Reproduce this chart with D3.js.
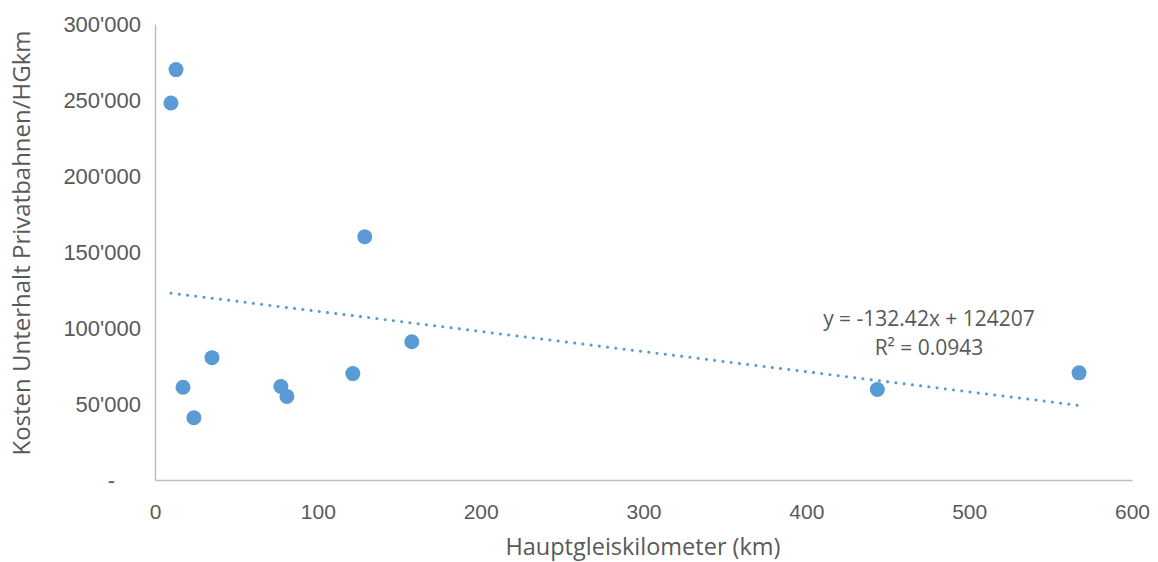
<!DOCTYPE html>
<html>
<head>
<meta charset="utf-8">
<script src="https://cdn.jsdelivr.net/npm/d3@7"></script>
<style>
  html, body { margin: 0; padding: 0; background: #ffffff; }
  svg { display: block; font-family: "Open Sans", sans-serif; }
</style>
</head>
<body>
<svg id="chart" width="1158" height="562"></svg>
<script>
// Hauptgleiskilometer (km) per railway
const trackKm = [12.9, 9.8, 17.2, 23.9, 35.0, 77.3, 81.0, 121.5, 128.8, 157.7, 443.6, 567.5];
// Maintenance cost per main-track km
const costPerKm = [270000, 248000, 61000, 41000, 80500, 61500, 55000, 70000, 160000, 91000, 59500, 70500];

const xTicks = [0, 100, 200, 300, 400, 500, 600];
const yTicks = [0, 50000, 100000, 150000, 200000, 250000, 300000];

// Linear trend line coefficients
const slope = -132.42;
const intercept = 124207;
const rSquared = 0.0943;

const svg = d3.select("#chart");
const plotLeft = 155, plotRight = 1132, plotTop = 24, plotBottom = 480;
const textColor = "#595959";
const axisColor = "#bfbfbf";
const markColor = "#5b9bd5";

const x = d3.scaleLinear().domain([0, 600]).range([plotLeft, plotRight]);
const y = d3.scaleLinear().domain([0, 300000]).range([plotBottom, plotTop]);

const fmtY = v => v === 0 ? "-" : d3.format(",")(v).replace(/,/g, "'");

// Y axis
const yAxis = svg.append("g")
  .attr("transform", `translate(${plotLeft},0)`)
  .call(d3.axisLeft(y).tickValues(yTicks).tickFormat(fmtY).tickSize(0).tickPadding(14));
yAxis.select(".domain").attr("stroke", axisColor).attr("stroke-width", 1.5);
yAxis.selectAll("text")
  .attr("fill", textColor)
  .style("font-size", "22px")
  .attr("dy", "0.35em")
  .attr("dx", d => d === 0 ? -26 : 0);

// X axis
const xAxis = svg.append("g")
  .attr("transform", `translate(0,${plotBottom})`)
  .call(d3.axisBottom(x).tickValues(xTicks).tickFormat(d3.format("d")).tickSize(0).tickPadding(24));
xAxis.select(".domain").attr("stroke", axisColor).attr("stroke-width", 1.5);
xAxis.selectAll("text")
  .attr("fill", textColor)
  .style("font-size", "21px");

// Axis titles
svg.append("text")
  .attr("x", 643)
  .attr("y", 555)
  .attr("text-anchor", "middle")
  .attr("fill", textColor)
  .style("font-size", "23.5px")
  .text("Hauptgleiskilometer (km)");

svg.append("text")
  .attr("transform", `translate(30,243) rotate(-90)`)
  .attr("text-anchor", "middle")
  .attr("fill", textColor)
  .style("font-size", "24px")
  .text("Kosten Unterhalt Privatbahnen/HGkm");

// Trend line over the data range
const [xMin, xMax] = d3.extent(trackKm);
svg.append("line")
  .attr("x1", x(xMin)).attr("y1", y(slope * xMin + intercept))
  .attr("x2", x(xMax)).attr("y2", y(slope * xMax + intercept))
  .attr("stroke", markColor)
  .attr("stroke-width", 3)
  .attr("stroke-linecap", "round")
  .attr("stroke-dasharray", "0.1 8.2");

// Points
svg.append("g")
  .selectAll("circle")
  .data(trackKm.map((v, i) => [v, costPerKm[i]]))
  .join("circle")
  .attr("cx", d => x(d[0]))
  .attr("cy", d => y(d[1]))
  .attr("r", 7.5)
  .attr("fill", markColor);

// Trend equation label
const eq = svg.append("text")
  .attr("text-anchor", "middle")
  .attr("fill", textColor)
  .style("font-size", "21px");
eq.append("tspan").attr("x", 929).attr("y", 326)
  .text(`y = ${slope}x + ${intercept}`);
eq.append("tspan").attr("x", 929).attr("y", 355)
  .text(`R² = ${rSquared}`);
</script>
</body>
</html>
